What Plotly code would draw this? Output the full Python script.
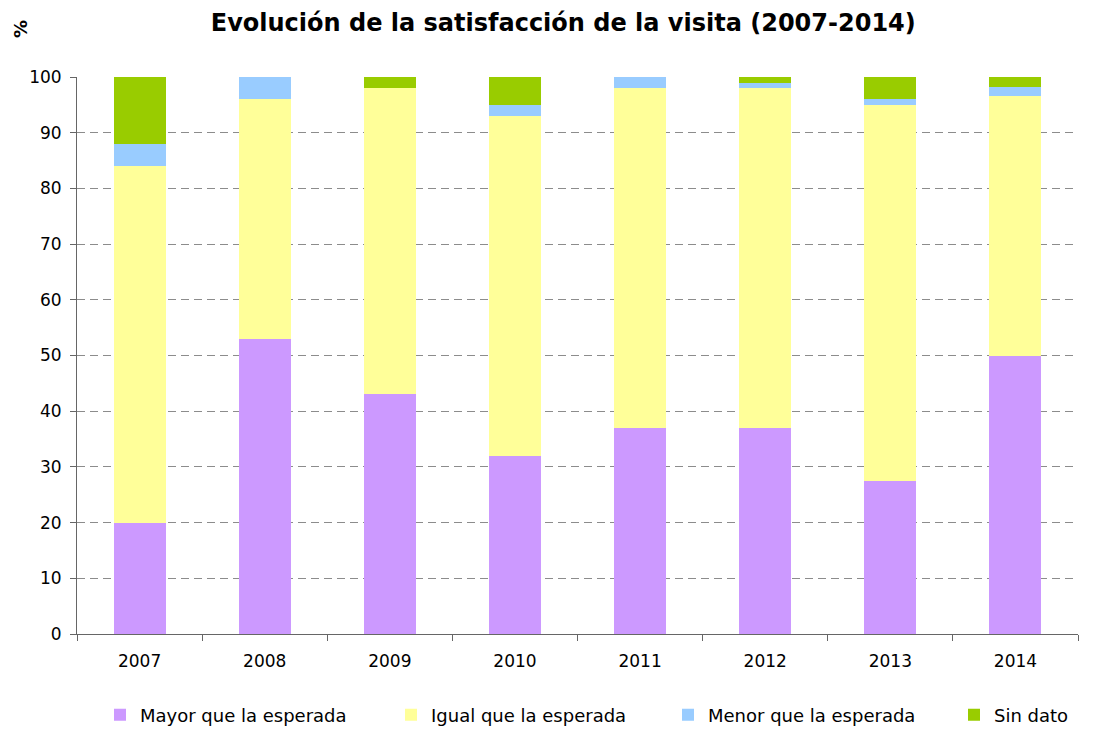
import plotly.graph_objects as go

years = ["2007", "2008", "2009", "2010", "2011", "2012", "2013", "2014"]
mayor = [20, 53, 43, 32, 37, 37, 27.5, 50]
igual = [64, 43, 55, 61, 61, 61, 67.5, 46.6]
menor = [4, 4, 0, 2, 2, 1, 1, 1.6]
sin_dato = [12, 0, 2, 5, 0, 1, 4, 1.8]

series = [
    ("Mayor que la esperada", mayor, "#CC99FF"),
    ("Igual que la esperada", igual, "#FFFF99"),
    ("Menor que la esperada", menor, "#99CCFF"),
    ("Sin dato", sin_dato, "#99CC00"),
]

W, H = 1093, 721  # page body has an 8px margin
legend_left = [92, 383, 660, 946]  # px in figure coords
legend_ids = ["legend", "legend2", "legend3", "legend4"]

fig = go.Figure()
for (name, vals, col), lid in zip(series, legend_ids):
    fig.add_trace(go.Bar(x=years, y=vals, name=name, marker_color=col,
                         marker_line_width=0, width=0.416, legend=lid,
                         showlegend=True))

layout_legends = {}
for lid, lx in zip(legend_ids, legend_left):
    layout_legends[lid] = dict(orientation="h", x=lx / W, xanchor="left", xref="container",
                               y=(H - 707) / H, yanchor="middle", yref="container",
                               font=dict(size=18), itemwidth=30)

fig.update_layout(
    barmode="stack",
    showlegend=True,
    width=W, height=H,
    paper_bgcolor="white", plot_bgcolor="white",
    margin=dict(l=69, r=23, t=69, b=95, autoexpand=False),
    font=dict(family="DejaVu Sans, Liberation Sans, Arial, sans-serif", size=17, color="black"),
    title=dict(text="<b>Evolución de la satisfacción de la visita (2007-2014)</b>",
               x=0.508, xanchor="center", xref="container",
               y=1 - 15 / H, yanchor="middle", yref="container",
               font=dict(size=24)),
    annotations=[dict(text="<b>%</b>", textangle=-90, xref="paper", yref="paper",
                      x=(12 - 69) / 1001, y=(626 - 21) / 557,
                      xanchor="center", yanchor="middle",
                      showarrow=False, font=dict(size=18))],
    **layout_legends,
)
fig.update_xaxes(showline=True, linecolor="#666666", linewidth=1, ticks="outside",
                 tickson="boundaries", ticklen=6, tickcolor="#666666",
                 showgrid=False, ticklabelstandoff=12)
fig.update_yaxes(range=[0, 100], dtick=10, showline=True, linecolor="#666666",
                 linewidth=1, ticks="outside", ticklen=6, tickcolor="#666666",
                 showgrid=True, gridcolor="#8c8c8c", griddash="8px,5px", gridwidth=1,
                 zeroline=False, ticklabelstandoff=5)

fig.write_html("out.html")
